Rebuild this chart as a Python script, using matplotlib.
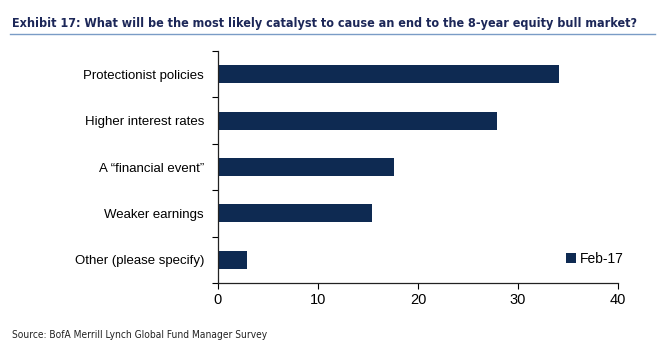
import matplotlib
matplotlib.use("Agg")
from matplotlib import pyplot as plt
from matplotlib.lines import Line2D
import numpy as np

categories = ['Protectionist policies', 'Higher interest rates',
              'A \u201cfinancial event\u201d', 'Weaker earnings',
              'Other (please specify)']
values = [34.1, 27.9, 17.6, 15.4, 2.9]
series_name = 'Feb-17'
xticks = [0, 10, 20, 30, 40]

navy = '#0e2a52'

fig = plt.figure(figsize=(6.64, 3.5), dpi=100)
ax = fig.add_axes([218 / 664, 67 / 350, 400 / 664, 232 / 350])

y = np.arange(len(categories))
ax.barh(y, values, height=0.39, color=navy, label=series_name)
ax.set_ylim(len(categories) - 0.5, -0.5)
ax.set_xlim(0, 40)
ax.set_xticks(xticks)
ax.set_yticks(y)
ax.set_yticklabels(categories, family='Liberation Sans', fontsize=9.5)
ax.set_yticks(np.arange(len(categories) + 1) - 0.5, minor=True)
ax.tick_params(axis='y', which='major', length=0, pad=10)
ax.tick_params(axis='y', which='minor', length=4, width=0.8, direction='out')
ax.tick_params(axis='x', length=4, width=0.8, labelsize=10.5, pad=3)
for lab in ax.get_xticklabels():
    lab.set_family('Liberation Sans')
for side in ['top', 'right']:
    ax.spines[side].set_visible(False)
for side in ['left', 'bottom']:
    ax.spines[side].set_linewidth(0.9)
    ax.spines[side].set_color('#222222')

leg = ax.legend(loc='lower right', bbox_to_anchor=(1.045, 0.02), frameon=False,
                handlelength=0.7, handleheight=0.7, handletextpad=0.25,
                prop={'family': 'Liberation Sans', 'size': 10})


def fit_text(t, width_px):
    # shrink a text until it spans the wanted number of pixels
    fig.canvas.draw()
    w = t.get_window_extent().width
    t.set_fontsize(t.get_fontsize() * width_px / w)


title = fig.text(12 / 664, 1 - 23 / 350,
                 'Exhibit 17: What will be the most likely catalyst to cause an end to the 8-year equity bull market?',
                 family='DejaVu Sans', stretch='condensed', weight='bold', fontsize=10.5,
                 color='#1c2758', va='center', ha='left')
fit_text(title, 628)
fig.add_artist(Line2D([10 / 664, 655 / 664], [1 - 34 / 350, 1 - 34 / 350],
                      transform=fig.transFigure, color='#7a9cc6', lw=1.0))
source = fig.text(12 / 664, 1 - 335 / 350, 'Source: BofA Merrill Lynch Global Fund Manager Survey',
                  family='DejaVu Sans', stretch='condensed', fontsize=8, color='#222222',
                  va='center', ha='left')
fit_text(source, 254)

fig.savefig('out.png', dpi=100)
